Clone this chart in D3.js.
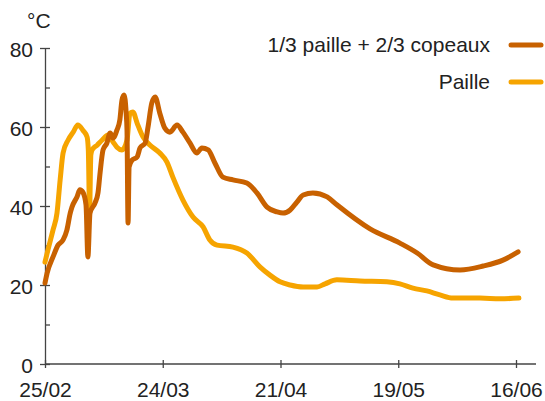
<!DOCTYPE html>
<html>
<head>
<meta charset="utf-8">
<script src="https://cdn.jsdelivr.net/npm/d3@7"></script>
<style>
  body { margin: 0; background: #fff; }
  svg { display: block; font-family: "Liberation Sans", Arial, sans-serif; }
  .axis path, .axis line { stroke: #444; stroke-width: 1.3; }
  .axis text { fill: #222; font-size: 21px; }
  .serie { fill: none; stroke-width: 5; stroke-linecap: round; stroke-linejoin: round; }
</style>
</head>
<body>
<svg></svg>
<script>
var width = 545;
var height = 401;

// day 0 = 25/02
var xTickDays = [0, 28, 56, 84, 112];
var xTickLabels = ['25/02', '24/03', '21/04', '19/05', '16/06'];
var yTicks = [0, 20, 40, 60, 80];
var yMinor = [10, 30, 50, 70];

var seriesNames = ['1/3 paille + 2/3 copeaux', 'Paille'];
var colors = ['#c86100', '#f6a400'];

// 1/3 paille + 2/3 copeaux
var copeauxDays = [0, 0.5, 1.9, 3.1, 4.3, 5.2, 6.0, 6.4, 7.6, 8.3, 9.0, 9.75, 10.2, 10.7, 11.9, 12.6, 13.1, 13.8, 14.7, 15.5,
    16.2, 17.1, 17.8, 18.3, 18.8, 19.3, 19.5, 19.75, 20.0, 20.7, 21.9, 22.6, 23.8, 24.5, 25.4, 26.2, 27.3, 28.5, 29.7,
    31.4, 32.8, 34.5, 36.1, 37.3, 38.8, 40.4, 42.3, 44.7, 48.0, 50.4, 52.8, 55.2, 56.6, 58.3, 59.9, 61.4, 63.7, 67.1,
    69.4, 77.3, 84.4, 88.5, 92.3, 98.7, 104.2, 108.9, 112.5];
var copeauxVals = [20.5, 23.0, 27.1, 30.1, 31.4, 33.9, 38.2, 39.7, 42.3, 44.1, 43.5, 40.3, 27.1, 38.2, 40.8, 43.3, 48.4, 54.2, 55.9, 58.5,
    57.2, 59.2, 61.8, 66.8, 68.1, 63.5, 59.2, 35.7, 49.9, 51.6, 52.4, 54.7, 55.9, 60.0, 66.1, 67.6, 63.5, 59.7, 58.7,
    60.5, 58.7, 55.9, 53.4, 54.7, 54.2, 50.9, 47.3, 46.6, 45.8, 43.3, 39.7, 38.5, 38.2, 39.0, 41.0, 42.8, 43.3, 42.3,
    40.3, 34.2, 30.6, 28.1, 25.1, 23.8, 24.8, 26.3, 28.4];

// Paille
var pailleDays = [0, 0.7, 1.9, 2.85, 3.6, 4.3, 5.5, 6.7, 7.8, 9.0, 10.0, 10.3, 10.6, 10.9, 11.2, 12.4, 13.6, 15.0, 16.2,
    17.1, 18.3, 19.5, 20.2, 20.9, 21.9, 23.3, 25.0, 27.3, 29.0, 30.4, 32.8, 35.2, 37.6, 39.2, 40.9, 44.7, 48.0, 51.1,
    53.5, 55.9, 58.3, 61.4, 64.7, 66.6, 69.4, 74.9, 81.3, 84.4, 87.5, 90.8, 93.9, 97.0, 103.4, 108.2, 112.7];
var pailleVals = [25.8, 28.9, 33.9, 38.2, 46.6, 53.4, 56.7, 58.7, 60.5, 59.2, 57.5, 54.2, 39.0, 52.9, 54.2, 55.4, 56.7, 58.0, 56.2,
    54.9, 54.2, 56.7, 63.5, 63.8, 61.0, 57.5, 55.4, 53.4, 51.1, 47.3, 41.5, 37.2, 34.7, 31.4, 30.1, 29.6, 28.1, 24.6,
    22.5, 20.8, 20.0, 19.5, 19.5, 20.3, 21.3, 21.0, 20.8, 20.3, 19.2, 18.5, 17.5, 16.7, 16.7, 16.5, 16.7];

var svg = d3.select('svg')
    .attr('width', width)
    .attr('height', height);

var x = d3.scaleLinear().domain([0, 112]).range([45, 516]);
var y = d3.scaleLinear().domain([0, 80]).range([364, 48]);

// x axis, ticks crossing the line
var xAxis = svg.append('g')
    .attr('class', 'axis')
    .attr('transform', 'translate(0,364)')
    .call(d3.axisBottom(x).tickValues(xTickDays).tickSize(4).tickSizeOuter(0)
        .tickFormat(function(d, i) { return xTickLabels[i]; }));
xAxis.select('.domain').attr('d', 'M' + x(0) + ',0H536');
xAxis.selectAll('.tick line').attr('y1', -4);
xAxis.selectAll('.tick text').attr('y', 18).attr('dy', '0.71em');

// y axis
var yAxis = svg.append('g')
    .attr('class', 'axis')
    .attr('transform', 'translate(45,0)')
    .call(d3.axisLeft(y).tickValues(yTicks).tickSize(5).tickSizeOuter(0));
yAxis.selectAll('.tick line').attr('x1', 5);
yAxis.selectAll('.tick text').attr('x', -12).attr('dy', '0.42em');

var yMinorAxis = svg.append('g')
    .attr('class', 'axis')
    .attr('transform', 'translate(45,0)')
    .call(d3.axisRight(y).tickValues(yMinor).tickSize(5).tickFormat(''));
yMinorAxis.select('.domain').remove();

svg.append('text')
    .attr('x', 27)
    .attr('y', 28)
    .attr('fill', '#222')
    .style('font-size', '21px')
    .text('°C');

var line = d3.line()
    .x(function(d) { return x(d[0]); })
    .y(function(d) { return y(d[1]); })
    .curve(d3.curveMonotoneX);

var series = [
    d3.zip(copeauxDays, copeauxVals),
    d3.zip(pailleDays, pailleVals)
];

// paille drawn first so copeaux lies on top where they cross
svg.append('path')
    .datum(series[1])
    .attr('class', 'serie')
    .attr('stroke', colors[1])
    .attr('d', line);
svg.append('path')
    .datum(series[0])
    .attr('class', 'serie')
    .attr('stroke', colors[0])
    .attr('d', line);

// legend
var legend = svg.append('g')
    .selectAll('g')
    .data(seriesNames)
    .enter().append('g')
    .attr('transform', function(d, i) { return 'translate(0,' + (45 + i * 37) + ')'; });
legend.append('text')
    .attr('x', 490)
    .attr('dy', '0.35em')
    .attr('text-anchor', 'end')
    .attr('fill', '#222')
    .style('font-size', '21px')
    .text(function(d) { return d; });
legend.append('line')
    .attr('x1', 511)
    .attr('x2', 541)
    .attr('stroke', function(d, i) { return colors[i]; })
    .attr('stroke-width', 5)
    .attr('stroke-linecap', 'round');
</script>
</body>
</html>
